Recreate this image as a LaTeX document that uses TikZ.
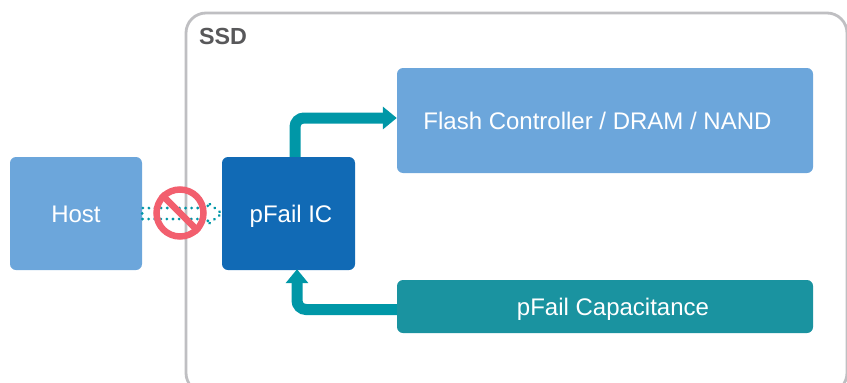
\documentclass[tikz,border=0pt]{standalone}
\usepackage{fontspec}
\setmainfont{Liberation Sans}
\usetikzlibrary{arrows.meta}
\definecolor{lightblue}{HTML}{6CA6DB}
\definecolor{darkblue}{HTML}{116AB5}
\definecolor{capteal}{HTML}{1A93A0}
\definecolor{arrowteal}{HTML}{0097A7}
\definecolor{ssdgrey}{HTML}{BFBFC2}
\definecolor{ssdtext}{HTML}{58585A}
\definecolor{stopred}{HTML}{F25F6E}
\newcommand{\blocktext}[1]{\raisebox{-8.5pt}[0pt][0pt]{#1}}
\tikzset{
  blockbox/.style={rounded corners=6pt,inner sep=0pt,text=white,font=\fontsize{24}{28}\selectfont},
  flowarrow/.style={draw=arrowteal,line width=11pt,rounded corners=9pt,-{Triangle[length=14pt,width=22pt,fill=arrowteal]}},
  dottedflow/.style={draw=arrowteal,line width=3pt,line cap=round,dash pattern=on 0.1pt off 6pt},
}
\begin{document}
\begin{tikzpicture}[x=1pt,y=-1pt]
\useasboundingbox (0,0) rectangle (847,383);
\begin{scope}
\clip (0,0) rectangle (847,383);
\node[draw=ssdgrey,line width=2.8pt,rounded corners=20pt,minimum width=661pt,minimum height=380pt,inner sep=0pt] (ssd) at (516.5,203) {};
\end{scope}
\node[font=\fontsize{23.3}{27}\selectfont\bfseries,text=ssdtext,inner sep=0pt] (ssdlabel) at (223,36) {SSD};
\node[blockbox,fill=lightblue,minimum width=132pt,minimum height=113pt] (host) at (76,213.5) {\blocktext{Host}};
\node[blockbox,fill=darkblue,minimum width=133pt,minimum height=113pt] (ic) at (288.5,213.5) {\hspace{5pt}\blocktext{pFail IC}};
\node[blockbox,fill=lightblue,minimum width=416pt,minimum height=105pt] (flash) at (605,120.5) {\hspace{-15pt}\blocktext{Flash Controller / DRAM / NAND}};
\node[blockbox,fill=capteal,minimum width=416pt,minimum height=53pt] (cap) at (605,306.5) {\hspace{16pt}\blocktext{pFail Capacitance}};
\coordinate (icn) at ([xshift=6.5pt]ic.north);
\coordinate (ics) at ([xshift=8.5pt,yshift=1pt]ic.south);
\coordinate (flw) at ([yshift=2.5pt]flash.west);
\coordinate (capw) at ([yshift=-3pt]cap.west);
\draw[flowarrow] (icn) |- (flw);
\draw[flowarrow] (capw) -| (ics);
\coordinate (da) at (host.east);
\coordinate (db) at ([yshift=5.5pt]host.east);
\coordinate (dc) at ([xshift=-14pt,yshift=5.5pt]ic.west);
\coordinate (dd) at ([xshift=-14pt,yshift=11pt]ic.west);
\coordinate (de) at (ic.west);
\coordinate (df) at ([xshift=-14pt,yshift=-11pt]ic.west);
\coordinate (dg) at ([xshift=-14pt,yshift=-5.5pt]ic.west);
\coordinate (dh) at ([yshift=-5.5pt]host.east);
\draw[dottedflow] (da) -- (db) -- (dc) -- (dd) -- (de) -- (df) -- (dg) -- (dh) -- cycle;
\node[circle,draw=stopred,line width=6.5pt,minimum size=47pt,inner sep=0pt] (stop) at (180,213) {};
\draw[stopred,line width=6.5pt] (stop.north west) -- (stop.south east);
\end{tikzpicture}
\end{document}
